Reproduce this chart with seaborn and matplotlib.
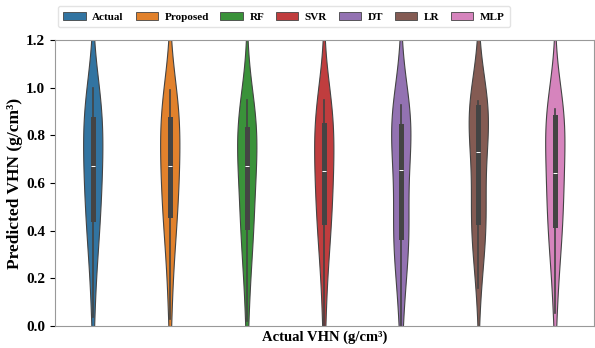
import matplotlib
matplotlib.use("Agg")
import matplotlib.pyplot as plt
import seaborn as sns
import pandas as pd

# Predicted VHN values per model (quartiles, whiskers, shape)
models = ["Actual", "Proposed", "RF", "SVR", "DT", "LR", "MLP"]
actual = [0.04, 0.18, 0.30, 0.36, 0.40, 0.43, 0.45, 0.50, 0.55, 0.59, 0.62, 0.65, 0.67,
          0.70, 0.73, 0.76, 0.80, 0.84, 0.867, 0.88, 0.90, 0.92, 0.95, 0.97, 1.00]
proposed = [0.03, 0.17, 0.29, 0.36, 0.41, 0.44, 0.466, 0.51, 0.55, 0.59, 0.62, 0.65, 0.671,
            0.70, 0.73, 0.77, 0.80, 0.84, 0.867, 0.88, 0.90, 0.92, 0.94, 0.97, 0.99]
rf = [0.02, 0.15, 0.27, 0.33, 0.37, 0.40, 0.417, 0.46, 0.51, 0.56, 0.60, 0.64, 0.671,
      0.69, 0.72, 0.75, 0.78, 0.80, 0.825, 0.84, 0.86, 0.88, 0.90, 0.92, 0.948]
svr = [0.00, 0.14, 0.27, 0.34, 0.38, 0.41, 0.438, 0.48, 0.52, 0.56, 0.59, 0.62, 0.65,
       0.68, 0.71, 0.75, 0.78, 0.81, 0.843, 0.86, 0.88, 0.90, 0.92, 0.93, 0.948]
dt = [0.00, 0.12, 0.25, 0.32, 0.34, 0.36, 0.372, 0.38, 0.40, 0.43, 0.50, 0.58, 0.655,
      0.72, 0.78, 0.80, 0.82, 0.83, 0.84, 0.85, 0.86, 0.87, 0.89, 0.91, 0.927]
lr = [0.159, 0.25, 0.33, 0.38, 0.41, 0.43, 0.438, 0.46, 0.49, 0.53, 0.60, 0.68, 0.731,
      0.77, 0.80, 0.83, 0.86, 0.89, 0.918, 0.922, 0.926, 0.93, 0.935, 0.94, 0.944]
mlp = [0.053, 0.17, 0.28, 0.34, 0.38, 0.41, 0.424, 0.46, 0.51, 0.55, 0.59, 0.62, 0.641,
       0.67, 0.71, 0.75, 0.79, 0.84, 0.878, 0.88, 0.89, 0.895, 0.90, 0.905, 0.91]

series = [actual, proposed, rf, svr, dt, lr, mlp]
df = pd.DataFrame({
    "model": [m for m, vals in zip(models, series) for _ in vals],
    "value": [v for vals in series for v in vals],
})

plt.rcParams["font.family"] = ["Liberation Serif", "DejaVu Serif"]
plt.rcParams["font.weight"] = "bold"

fig, ax = plt.subplots(figsize=(5.95, 3.48), dpi=100)
fig.subplots_adjust(left=0.092, right=0.998, bottom=0.063, top=0.885)

sns.violinplot(data=df, x="model", y="value", hue="model", order=models,
               hue_order=models, palette="tab10", width=0.25, bw_adjust=1.2,
               linewidth=0.8, linecolor="#444444", inner="box", legend=False, ax=ax)

ax.set_ylim(0, 1.2)
yticks = [0.0, 0.2, 0.4, 0.6, 0.8, 1.0, 1.2]
ax.set_yticks(yticks)
ax.set_yticklabels([f"{t:.1f}" for t in yticks], fontsize=11, fontweight="bold")
ax.set_xticks([])
ax.set_xlabel("Actual VHN (g/cm³)", fontsize=10.5, fontweight="bold", labelpad=3)
ax.set_ylabel("Predicted VHN (g/cm³)", fontsize=12.5, fontweight="bold", labelpad=2)
for s in ax.spines.values():
    s.set_color("#999999")

# legend patches in the same desaturated palette the violins use
colors = [sns.desaturate(c, 0.75) for c in sns.color_palette("tab10", len(models))]
handles = [plt.Rectangle((0, 0), 1, 1, facecolor=c, edgecolor="#444444", linewidth=0.6)
           for c in colors]
fig.legend(handles, models, loc="upper left", bbox_to_anchor=(0.088, 0.998),
           ncol=7, prop={"size": 8, "weight": "bold"}, frameon=True,
           handlelength=2.0, handletextpad=0.6, columnspacing=1.05,
           edgecolor="#dddddd", borderpad=0.5)

fig.savefig("out.png", dpi=100)
